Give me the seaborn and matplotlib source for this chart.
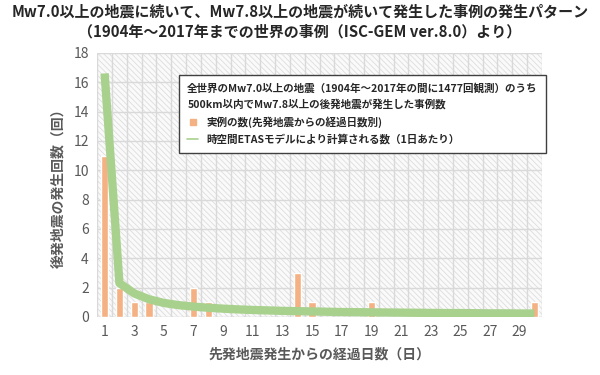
import matplotlib
matplotlib.use("Agg")
import matplotlib.pyplot as plt
from matplotlib.lines import Line2D
import numpy as np
import pandas as pd
import seaborn as sb

# data
zile = list(range(1, 31))
cazuri = [11, 2, 1, 1, 0, 0, 2, 1, 0, 0,
          0, 0, 0, 3, 1, 0, 0, 0, 1, 0,
          0, 0, 0, 0, 0, 0, 0, 0, 0, 1]
etas = [16.6, 2.3, 1.6, 1.2, 0.95, 0.8, 0.7, 0.62, 0.56, 0.51,
        0.47, 0.44, 0.41, 0.39, 0.37, 0.35, 0.33, 0.32, 0.31, 0.30,
        0.29, 0.28, 0.27, 0.26, 0.26, 0.25, 0.24, 0.24, 0.23, 0.23]

titlu = ("Mw7.0以上の地震に続いて、Mw7.8以上の地震が続いて発生した事例の発生パターン\n"
         "（1904年～2017年までの世界の事例（ISC-GEM ver.8.0）より）")
eticheta_x = "先発地震発生からの経過日数（日）"
eticheta_y = "後発地震の発生回数（回）"
titlu_legenda = ("全世界のMw7.0以上の地震（1904年～2017年の間に1477回観測）のうち\n"
                 "500km以内でMw7.8以上の後発地震が発生した事例数")
serie1 = "実例の数(先発地震からの経過日数別)"
serie2 = "時空間ETASモデルにより計算される数（1日あたり）"

culoare_bare = "#F4B183"
culoare_linie = "#A9D18E"

t = pd.DataFrame({"zi": zile, "cazuri": cazuri, "etas": etas})

sb.set_style("white")
plt.rcParams["font.family"] = ["Noto Sans CJK JP", "DejaVu Sans"]
plt.rcParams["hatch.color"] = "#d9d9d9"
plt.rcParams["hatch.linewidth"] = 0.6

fig = plt.figure(figsize=(6, 3.75), dpi=100)
ax = fig.add_axes([0.162, 0.155, 0.741, 0.704])

ax.set_facecolor("#fafafa")
ax.patch.set_hatch("\\\\\\\\\\\\")
ax.patch.set_edgecolor("#dddddd")

sb.barplot(data=t, x="zi", y="cazuri", native_scale=True, width=0.5,
           color=culoare_bare, saturation=1, ax=ax, zorder=3)
sb.lineplot(data=t, x="zi", y="etas", color=culoare_linie, lw=6, ax=ax,
            zorder=4, solid_capstyle="butt")

ax.set_xlim(0.5, 30.5)
ax.set_ylim(0, 18)
ax.set_yticks(np.arange(0, 19, 2))
ax.set_xticks(np.arange(1, 30, 2))
ax.set_xticks(np.arange(0.5, 31, 1), minor=True)
ax.grid(True, which="major", axis="y", color="#d9d9d9", lw=1, zorder=1)
ax.grid(True, which="minor", axis="x", color="#d9d9d9", lw=1, zorder=1)
ax.set_axisbelow(True)
ax.tick_params(axis="both", which="both", length=0, labelsize=10,
               labelcolor="#595959", pad=6)
for s in ax.spines.values():
    s.set_visible(False)
ax.axhline(0, color="#d9d9d9", lw=1, zorder=2)

ax.set_xlabel(eticheta_x, fontsize=10, fontweight="bold", color="#595959", labelpad=6)
ax.set_ylabel(eticheta_y, fontsize=10, fontweight="bold", color="#595959", labelpad=6)

fig.suptitle(titlu, fontsize=10.8, fontweight="bold", y=0.99, linespacing=1.3)

handles = [Line2D([], [], ls="none", marker="s", markersize=4, color=culoare_bare),
           Line2D([], [], color=culoare_linie, lw=1.2)]
leg = ax.legend(handles, [serie1, serie2], title=titlu_legenda, loc="upper left",
                bbox_to_anchor=(0.173, 0.936), alignment="left", fontsize=7.6,
                title_fontproperties={"size": 7.6, "weight": "bold"},
                frameon=True, fancybox=False, edgecolor="#404040", framealpha=1,
                handlelength=1.0, handletextpad=0.8, borderpad=0.75, labelspacing=0.6)
leg.get_title().set_linespacing(1.6)
leg.get_frame().set_linewidth(1.0)
for txt in leg.get_texts():
    txt.set_fontweight("bold")

fig.savefig("out.png", dpi=100)
